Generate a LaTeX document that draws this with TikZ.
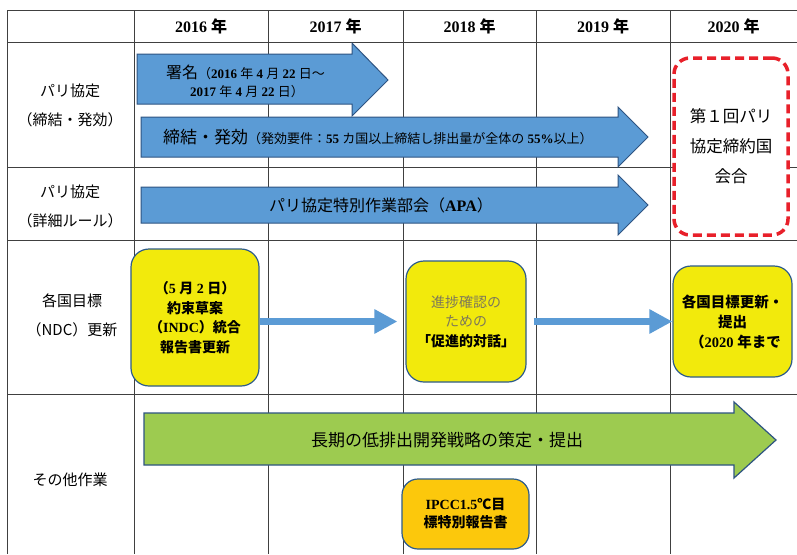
\documentclass[tikz,border=0pt]{standalone}
\usepackage{fontspec}
\setmainfont{Liberation Serif}
\newfontfamily\jp{Noto Sans CJK JP}
\usetikzlibrary{arrows.meta}
\newcommand\jpt[1]{{\jp #1}}
\definecolor{arrblue}{RGB}{91,155,213}
\definecolor{arrborder}{RGB}{46,84,130}
\definecolor{boxyellow}{RGB}{242,234,12}
\definecolor{boxorange}{RGB}{252,200,12}
\definecolor{arrgreen}{RGB}{157,203,80}
\definecolor{dashred}{RGB}{232,32,42}
\definecolor{boxborder}{RGB}{46,92,138}
\definecolor{softtext}{RGB}{125,120,90}
\tikzset{
  gridline/.style={draw=black!75, line width=0.8pt},
  barrow/.style={fill=arrblue, draw=arrborder, line width=1pt},
  garrow/.style={fill=arrgreen, draw=arrborder, line width=1.2pt},
  yearlbl/.style={font=\fontsize{16}{18}\selectfont\bfseries},
  rowlbl/.style={align=center, font=\fontsize{15}{29}\selectfont\jp},
  ybox/.style={draw=boxborder, line width=1.2pt, fill=boxyellow, rounded corners=18pt,
    align=center, inner sep=0pt, font=\fontsize{14}{19.5}\selectfont\bfseries},
  obox/.style={draw=boxborder, line width=1.2pt, fill=boxorange, rounded corners=16pt,
    align=center, inner sep=0pt, font=\fontsize{14}{18}\selectfont\bfseries},
  redbox/.style={draw=dashred, line width=3.5pt, dash pattern=on 9pt off 5pt, fill=white,
    rounded corners=16pt, align=center, inner sep=0pt, font=\fontsize{16.5}{30}\selectfont\jp},
  conn/.style={draw=arrblue, line width=7pt, -{Triangle[length=23pt,width=23pt]}},
  arrtext/.style={inner sep=0pt, anchor=center}
}
\begin{document}
\begin{tikzpicture}[x=1pt,y=-1pt]
\useasboundingbox (0,0) rectangle (797,554);
\fill[white] (0,0) rectangle (797,554);
% grid
\foreach \yy in {10,42,167,240,394} \draw[gridline] (7,\yy) -- (797,\yy);
\foreach \xx in {7,134,268,403,536,670} \draw[gridline] (\xx,10) -- (\xx,554);
% header
\node[yearlbl] (h16) at (201,26) {2016 \jpt{年}};
\node[yearlbl] (h17) at (335.5,26) {2017 \jpt{年}};
\node[yearlbl] (h18) at (469.5,26) {2018 \jpt{年}};
\node[yearlbl] (h19) at (603,26) {2019 \jpt{年}};
\node[yearlbl] (h20) at (733.5,26) {2020 \jpt{年}};
% row labels
\node[rowlbl] (r1) at (70,105) {パリ協定\\（締結・発効）};
\node[rowlbl] (r2) at (70,206) {パリ協定\\（詳細ルール）};
\node[rowlbl] (r3) at (72,315) {各国目標\\（NDC）更新};
\node[rowlbl] (r4) at (70,480) {その他作業};
% blue arrows
\draw[barrow] (137,54) -- (352,54) -- (352,43) -- (388,80) -- (352,116) -- (352,104) -- (137,104) -- cycle;
\draw[barrow] (141,117) -- (618,117) -- (618,107) -- (648,137) -- (618,167) -- (618,157) -- (141,157) -- cycle;
\draw[barrow] (141,187) -- (618,187) -- (618,175) -- (648,205) -- (618,235) -- (618,223) -- (141,223) -- cycle;
\node[arrtext, anchor=west] (sig1) at (166,72) {\fontsize{16}{17}\selectfont\jpt{署名}\fontsize{13}{14}\selectfont\jpt{（}\textbf{2016} \jpt{年} \textbf{4} \jpt{月} \textbf{22} \jpt{日～}};
\node[arrtext, anchor=west] (sig2) at (190,92) {\fontsize{13}{14}\selectfont\textbf{2017} \jpt{年} \textbf{4} \jpt{月} \textbf{22} \jpt{日）}};
\node[arrtext, anchor=west] (eff) at (163,137) {\fontsize{17}{18}\selectfont\jpt{締結・発効}\fontsize{13}{14}\selectfont\jpt{（発効要件：}\textbf{55} \jpt{カ国以上締結し排出量が全体の} \textbf{55\%}\jpt{以上）}};
\node[arrtext] (apa) at (381,205) {\fontsize{16}{17}\selectfont\jpt{パリ協定特別作業部会（}\textbf{APA}\jpt{）}};
% red dashed box
\node[redbox, minimum width=114pt, minimum height=177pt] (cma) at (731,146.5) {第１回パリ\\協定締約国\\会合};
% yellow boxes
\node[ybox, minimum width=128pt, minimum height=137pt] (y1) at (195,317.5)
  {\jpt{（}5 \jpt{月} 2 \jpt{日）}\\\jpt{約束草案}\\\jpt{（}INDC\jpt{）統合}\\\jpt{報告書更新}};
\node[ybox, minimum width=120pt, minimum height=121pt] (y2) at (466,321.5)
  {\color{softtext}\mdseries\jpt{進捗確認の}\\\color{softtext}\mdseries\jpt{ための}\\\jpt{「促進的対話」}};
\node[ybox, minimum width=119pt, minimum height=111pt, font=\fontsize{14.5}{20}\selectfont\bfseries] (y3) at (732.5,321.5)
  {\jpt{各国目標更新・}\\\jpt{提出}\\\hspace*{6pt}\jpt{（}2020 \jpt{年まで}};
\draw[conn, shorten >=8pt] (y1.east |- y2.west) -- (y2.west);
\draw[conn, shorten <=7pt] (y2.east) -- (y3.west);
% green arrow
\draw[garrow] (144,413) -- (734,413) -- (734,402) -- (776,440) -- (734,478) -- (734,465) -- (144,465) -- cycle;
\node[arrtext] (ltd) at (447,440) {\fontsize{17}{19}\selectfont\jpt{長期の低排出開発戦略の策定・提出}};
% orange box
\node[obox, minimum width=127pt, minimum height=70pt] (ipcc) at (465.5,514)
  {IPCC1.5\jpt{℃目}\\\jpt{標特別報告書}};
\end{tikzpicture}
\end{document}
